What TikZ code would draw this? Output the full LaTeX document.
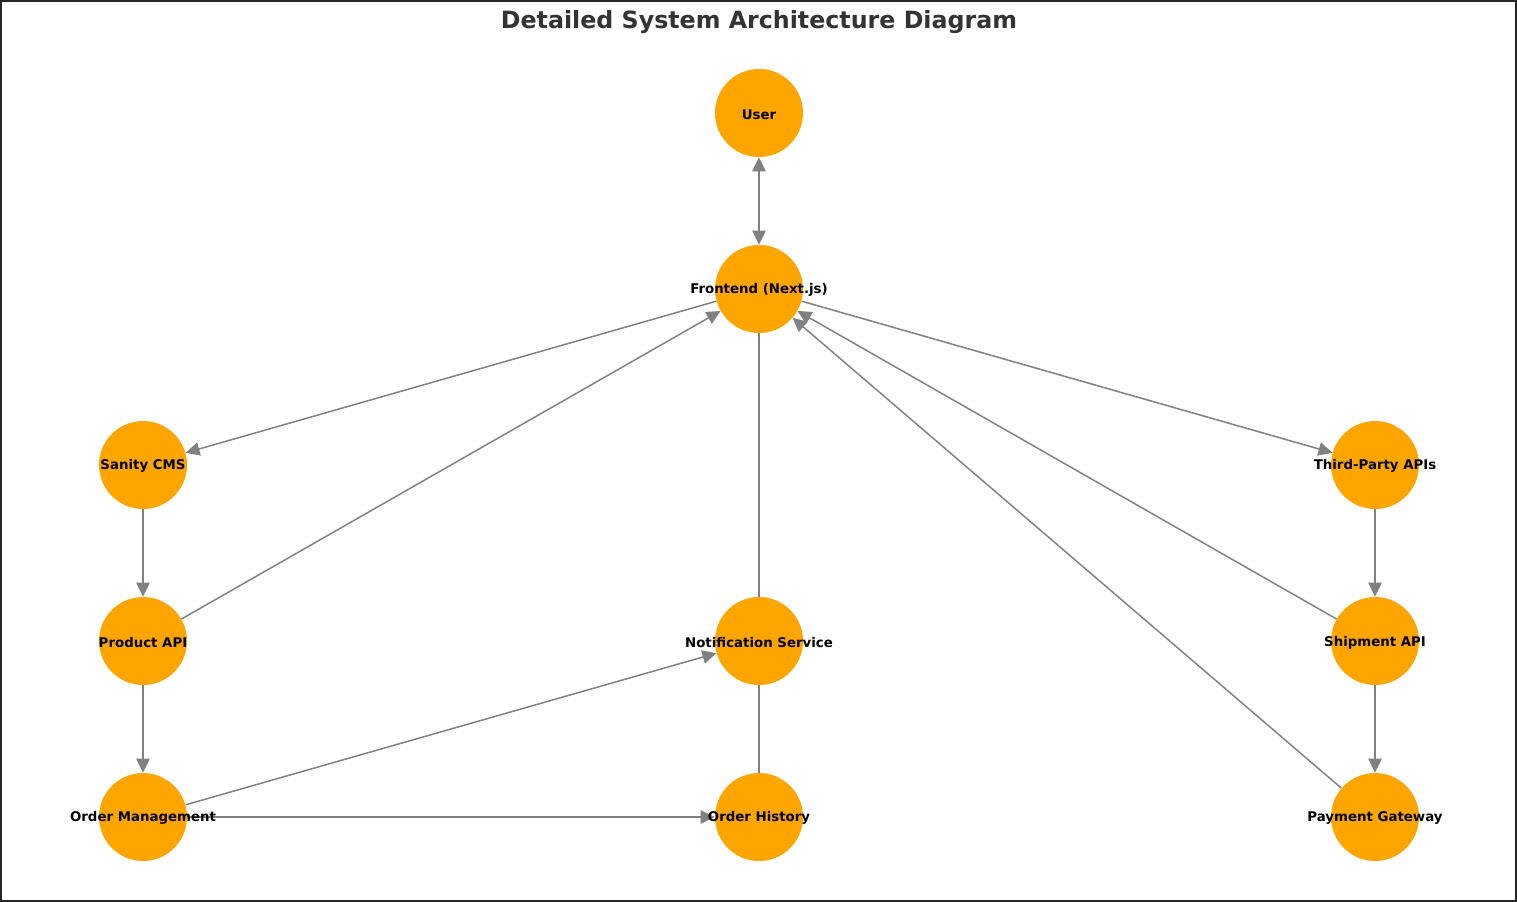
\documentclass[tikz,border=0pt]{standalone}
\usepackage{fontspec}
\setmainfont{DejaVu Sans}
\usetikzlibrary{arrows.meta,backgrounds}
\definecolor{nodeorange}{HTML}{FFA500}
\definecolor{edgegray}{HTML}{808080}
\definecolor{titlegray}{HTML}{333333}
\tikzset{
  tip/.tip={Triangle[length=10.5pt,width=10pt]},
  sysnode/.style={circle, fill=nodeorange, draw=none, minimum size=66pt, inner sep=0pt,
    label={[font=\bfseries\fontsize{10}{12}\selectfont, text=black, yshift=-1pt]center:#1}},
  conn/.style={draw=edgegray, line width=1.1pt, -tip},
  plainconn/.style={draw=edgegray, line width=1.1pt},
  biconn/.style={draw=edgegray, line width=1.1pt, tip-tip}
}
\begin{document}
\begin{tikzpicture}[x=0.75pt,y=-0.75pt]
\useasboundingbox (0,0) rectangle (1517,902);
\node[font=\bfseries\fontsize{17.8}{21}\selectfont, text=titlegray] (title) at (759,22) {Detailed System Architecture Diagram};

\node[sysnode={User}] (user) at (759,113) {};
\node[sysnode={Frontend (Next.js)}] (fe) at (759,289) {};
\node[sysnode={Sanity CMS}] (cms) at (143,465) {};
\node[sysnode={Third-Party APIs}] (tp) at (1375,465) {};
\node[sysnode={Product API}] (papi) at (143,641) {};
\node[sysnode={Notification Service}] (ns) at (759,641) {};
\node[sysnode={Shipment API}] (sapi) at (1375,641) {};
\node[sysnode={Order Management}] (om) at (143,817) {};
\node[sysnode={Order History}] (oh) at (759,817) {};
\node[sysnode={Payment Gateway}] (pg) at (1375,817) {};

\begin{scope}[on background layer]
\fill[white] (0,0) rectangle (1517,902);
\draw[biconn] (user) -- (fe);
\draw[conn] (fe) -- (cms);
\draw[conn] (papi) -- (fe);
\draw[conn] (fe) -- (tp);
\draw[conn] (sapi) -- (fe);
\draw[conn] (pg) -- (fe);
\draw[plainconn] (fe) -- (ns);
\draw[conn] (cms) -- (papi);
\draw[conn] (papi) -- (om);
\draw[conn] (om) -- (ns);
\draw[conn] (om) -- (oh);
\draw[plainconn] (ns) -- (oh);
\draw[conn] (tp) -- (sapi);
\draw[conn] (sapi) -- (pg);
\end{scope}
\draw[line width=1.8pt, draw=black!85] (1,1) rectangle (1516,901);
\end{tikzpicture}
\end{document}
